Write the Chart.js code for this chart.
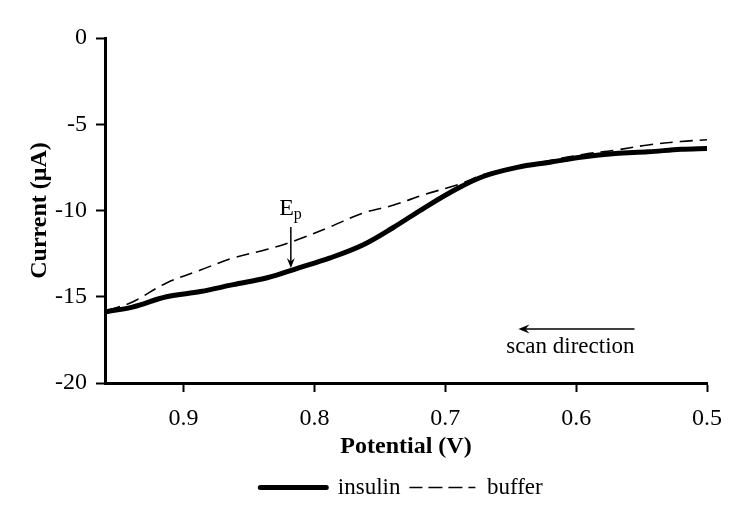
<!DOCTYPE html>
<html>
<head>
<meta charset="utf-8">
<script src="https://cdn.jsdelivr.net/npm/chart.js@4"></script>
<style>
    html, body { margin: 0; padding: 0; background: #fff; }
    #wrap { width: 750px; height: 527px; position: relative; }
</style>
</head>
<body>
<div id="wrap"><canvas id="grafico" width="750" height="527"></canvas></div>
<script>
// values
const potential = [0.958, 0.939, 0.913, 0.887, 0.862, 0.836, 0.813, 0.788, 0.763, 0.740,
                   0.715, 0.690, 0.670, 0.645, 0.620, 0.595, 0.570, 0.545, 0.520, 0.500];
const insulin = [-15.85, -15.6, -15.0, -14.7, -14.3, -13.9, -13.35, -12.75, -12.0, -11.0,
                 -9.8, -8.7, -8.0, -7.5, -7.2, -6.9, -6.7, -6.6, -6.45, -6.4];
const buffer = [-15.8, -15.3, -14.2, -13.45, -12.75, -12.25, -11.7, -10.95, -10.15, -9.7,
                -9.05, -8.5, -7.9, -7.45, -7.1, -6.75, -6.5, -6.2, -6.0, -5.9];
const xTicks = [0.5, 0.6, 0.7, 0.8, 0.9];
const yTicks = [-20, -15, -10, -5, 0];

// annotation anchors, in data units
const epPotential = 0.818;
const epLabelCurrent = -10.26;
const epArrowTop = -10.96;
const epArrowTip = -13.33;
const scanArrowFrom = 0.5554;
const scanArrowTo = 0.6441;
const scanArrowCurrent = -16.87;
const scanLabelPotential = 0.6044;
const scanLabelCurrent = -18.26;

const fonte = "'Liberation Serif', 'Times New Roman', serif";
Chart.defaults.font.family = fonte;
Chart.defaults.color = '#000';

function seta(ctx, x1, y1, x2, y2, comp, larg) {
    const ang = Math.atan2(y2 - y1, x2 - x1);
    ctx.beginPath();
    ctx.moveTo(x1, y1);
    ctx.lineTo(x2 - Math.cos(ang) * comp * 0.6, y2 - Math.sin(ang) * comp * 0.6);
    ctx.stroke();
    ctx.beginPath();
    ctx.moveTo(x2, y2);
    ctx.lineTo(x2 - Math.cos(ang) * comp + Math.sin(ang) * larg, y2 - Math.sin(ang) * comp - Math.cos(ang) * larg);
    ctx.lineTo(x2 - Math.cos(ang) * comp * 0.65, y2 - Math.sin(ang) * comp * 0.65);
    ctx.lineTo(x2 - Math.cos(ang) * comp - Math.sin(ang) * larg, y2 - Math.sin(ang) * comp + Math.cos(ang) * larg);
    ctx.closePath();
    ctx.fill();
}

const anotacoes = {
    id: 'anotacoes',
    afterLayout(chart) {
        // move the legend to sit under the plot like in the original
        chart.legend.left += 48;
        chart.legend.right += 48;
    },
    afterDatasetsDraw(chart) {
        const ctx = chart.ctx;
        const sx = chart.scales.x;
        const sy = chart.scales.y;
        ctx.save();
        ctx.fillStyle = '#000';
        ctx.strokeStyle = '#000';
        ctx.lineWidth = 1.5;

        const xe = sx.getPixelForValue(epPotential);
        seta(ctx, xe, sy.getPixelForValue(epArrowTop), xe, sy.getPixelForValue(epArrowTip), 10, 4);
        ctx.font = '24px ' + fonte;
        ctx.textAlign = 'right';
        ctx.textBaseline = 'alphabetic';
        ctx.fillText('E', xe + 3, sy.getPixelForValue(epLabelCurrent));
        ctx.font = '16px ' + fonte;
        ctx.textAlign = 'left';
        ctx.fillText('p', xe + 3, sy.getPixelForValue(epLabelCurrent) + 4);

        const ys = sy.getPixelForValue(scanArrowCurrent);
        seta(ctx, sx.getPixelForValue(scanArrowFrom), ys, sx.getPixelForValue(scanArrowTo), ys, 11, 4.5);
        ctx.font = '23px ' + fonte;
        ctx.textAlign = 'center';
        ctx.fillText('scan direction', sx.getPixelForValue(scanLabelPotential), sy.getPixelForValue(scanLabelCurrent));
        ctx.restore();
    }
};

const ctx = document.getElementById('grafico').getContext('2d');
new Chart(ctx, {
    type: 'line',
    data: {
        labels: potential,
        datasets: [
            {
                label: 'insulin',
                data: potential.map((p, i) => ({ x: p, y: insulin[i] })),
                borderColor: '#000',
                backgroundColor: '#000',
                borderWidth: 5,
                borderCapStyle: 'round',
                borderJoinStyle: 'round',
                pointRadius: 0,
                tension: 0.35,
                fill: false
            },
            {
                label: 'buffer',
                data: potential.map((p, i) => ({ x: p, y: buffer[i] })),
                borderColor: '#000',
                backgroundColor: '#000',
                borderWidth: 1.6,
                borderDash: [13, 7],
                pointRadius: 0,
                tension: 0.35,
                fill: false
            }
        ]
    },
    options: {
        responsive: false,
        animation: false,
        devicePixelRatio: 1,
        layout: { padding: { top: 38, right: 43, left: 0, bottom: 18 } },
        scales: {
            x: {
                type: 'linear',
                reverse: true,
                min: 0.5,
                max: 0.96,
                afterBuildTicks: s => { s.ticks = xTicks.map(v => ({ value: v })); },
                afterFit: s => { s.height = 84; },
                ticks: {
                    font: { size: 24 },
                    color: '#000',
                    padding: 12,
                    maxRotation: 0,
                    autoSkip: false,
                    callback: v => v.toFixed(1)
                },
                grid: { display: true, drawOnChartArea: false, tickLength: 9, tickWidth: 2, tickColor: '#000', color: '#000' },
                border: { display: true, color: '#000', width: 3 },
                title: {
                    display: true,
                    text: 'Potential (V)',
                    font: { size: 24, weight: 'bold' },
                    color: '#000',
                    padding: { top: 0, bottom: 6 }
                }
            },
            y: {
                min: -20,
                max: 0,
                afterBuildTicks: s => { s.ticks = yTicks.map(v => ({ value: v })); },
                afterFit: s => { s.width = 105; },
                ticks: {
                    font: { size: 24 },
                    color: '#000',
                    padding: 9,
                    callback: v => String(v)
                },
                grid: { display: true, drawOnChartArea: false, tickLength: 9, tickWidth: 2, tickColor: '#000', color: '#000' },
                border: { display: true, color: '#000', width: 3 },
                title: {
                    display: true,
                    text: 'Current (μA)',
                    font: { size: 24, weight: 'bold' },
                    color: '#000',
                    padding: { top: 25, bottom: 0 }
                }
            }
        },
        plugins: {
            legend: {
                position: 'bottom',
                labels: {
                    font: { size: 23 },
                    color: '#000',
                    boxWidth: 66,
                    boxHeight: 0,
                    padding: 9
                }
            },
            tooltip: { enabled: false }
        }
    },
    plugins: [anotacoes]
});
</script>
</body>
</html>
